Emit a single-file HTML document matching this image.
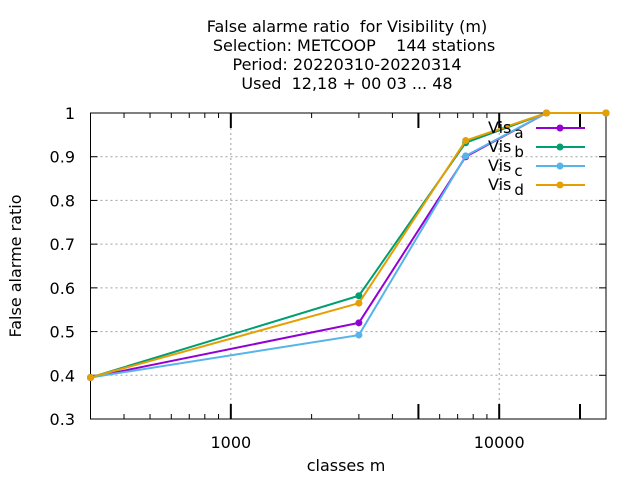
<!DOCTYPE html>
<html><head><meta charset="utf-8"><style>
body{margin:0;background:#fff}
text{font-family:"DejaVu Sans","Liberation Sans",sans-serif;font-size:16px;fill:#000;white-space:pre}
</style></head><body>
<svg id="chart" width="640" height="480" xml:space="preserve">
<g text-anchor="middle">
<text x="347" y="32">False alarme ratio  for Visibility (m)</text>
<text x="354" y="51">Selection: METCOOP    144 stations</text>
<text x="347" y="70">Period: 20220310-20220314</text>
<text x="347" y="89">Used  12,18 + 00 03 ... 48</text>
</g>
<text x="346" y="471" text-anchor="middle">classes m</text>
<text transform="translate(21,266) rotate(-90)" text-anchor="middle">False alarme ratio</text>
<g id="grid"></g><g id="axes"></g><g id="series"></g><g id="legend"></g>
</svg>
<script>
const classes=[300,3000,7500,15000,25000];
const visA=[0.395,0.52,0.90,1.0,1.0];
const visB=[0.395,0.582,0.932,1.0,1.0];
const visC=[0.395,0.492,0.902,1.0,1.0];
const visD=[0.395,0.565,0.937,1.0,1.0];
const seriesNames=["a","b","c","d"];
const yTicks=[0.3,0.4,0.5,0.6,0.7,0.8,0.9,1];
const yTickLabels=["0.3","0.4","0.5","0.6","0.7","0.8","0.9","1"];
const xLabelTicks=[1000,10000];
const xMajorTicks=[1000,5000,10000,20000];
const xMinorTicks=[400,500,600,700,800,900,2000,3000,4000,6000,7000,8000,9000];
const L=90.5,R=606,T=113,B=419,XMIN=300,XMAX=25000,YMIN=0.3,YMAX=1;
const xs=v=>L+(Math.log10(v)-Math.log10(XMIN))/(Math.log10(XMAX)-Math.log10(XMIN))*(R-L);
const ys=v=>B-(v-YMIN)/(YMAX-YMIN)*(B-T);
const NS="http://www.w3.org/2000/svg";
function mk(tag,attrs,parent){const e=document.createElementNS(NS,tag);for(const k in attrs)e.setAttribute(k,attrs[k]);parent.appendChild(e);return e;}
const grid=document.getElementById('grid'),axes=document.getElementById('axes'),ser=document.getElementById('series'),leg=document.getElementById('legend');
yTicks.forEach((v,i)=>{const y=ys(v);
 if(i>0&&i<yTicks.length-1){const g=mk('line',{x1:L,x2:R,y1:y,y2:y,stroke:'#a0a0a0','stroke-dasharray':'2,3','stroke-width':1},grid);
 
 }
 mk('line',{x1:L,x2:L+7,y1:y,y2:y,stroke:'#000'},axes);
 mk('line',{x1:R,x2:R-7,y1:y,y2:y,stroke:'#000'},axes);
 const t=mk('text',{x:75,y:y+6,'text-anchor':'end'},axes);t.textContent=yTickLabels[i];
 
 
});
xLabelTicks.forEach(v=>{const x=xs(v);
 const g=mk('line',{x1:x,x2:x,y1:T,y2:B,stroke:'#a0a0a0','stroke-dasharray':'2,3'},grid);
 
 
 const t=mk('text',{x:x,y:448,'text-anchor':'middle'},axes);t.textContent=v;
 
 
});
xMajorTicks.forEach(v=>{const x=xs(v);
 mk('line',{x1:x,x2:x,y1:B,y2:B-15,stroke:'#000','stroke-width':2},axes);
 mk('line',{x1:x,x2:x,y1:T,y2:T+15,stroke:'#000','stroke-width':2},axes);});
xMinorTicks.forEach(v=>{const x=xs(v);
 mk('line',{x1:x,x2:x,y1:B,y2:B-5,stroke:'#000'},axes);
 mk('line',{x1:x,x2:x,y1:T,y2:T+5,stroke:'#000'},axes);});
const frame=mk('rect',{x:L,y:T,width:R-L,height:B-T,fill:'none',stroke:'#000'},axes);


const data=[visA,visB,visC,visD];
const colors=['#9400d3','#009e73','#56b4e9','#e69f00'];
data.forEach((vals,s)=>{
 const g=mk('g',{},ser);
 
 
 mk('polyline',{points:vals.map((v,i)=>xs(classes[i])+','+ys(v)).join(' '),fill:'none',stroke:colors[s],'stroke-width':2},g);
 vals.forEach((v,i)=>{const p=mk('circle',{cx:xs(classes[i]),cy:ys(v),r:3.5,fill:colors[s]},g);
 
 });
 const y=128+s*19;
 const le=mk('g',{},leg);
 
 
 const t=mk('text',{x:488,y:y+5},le);t.innerHTML='Vis<tspan dx="3" dy="5" font-size="15">'+seriesNames[s]+'</tspan>';
 mk('line',{x1:536,x2:585,y1:y,y2:y,stroke:colors[s],'stroke-width':2},le);
 mk('circle',{cx:560,cy:y,r:3.5,fill:colors[s]},le);
});
</script>
</body></html>
